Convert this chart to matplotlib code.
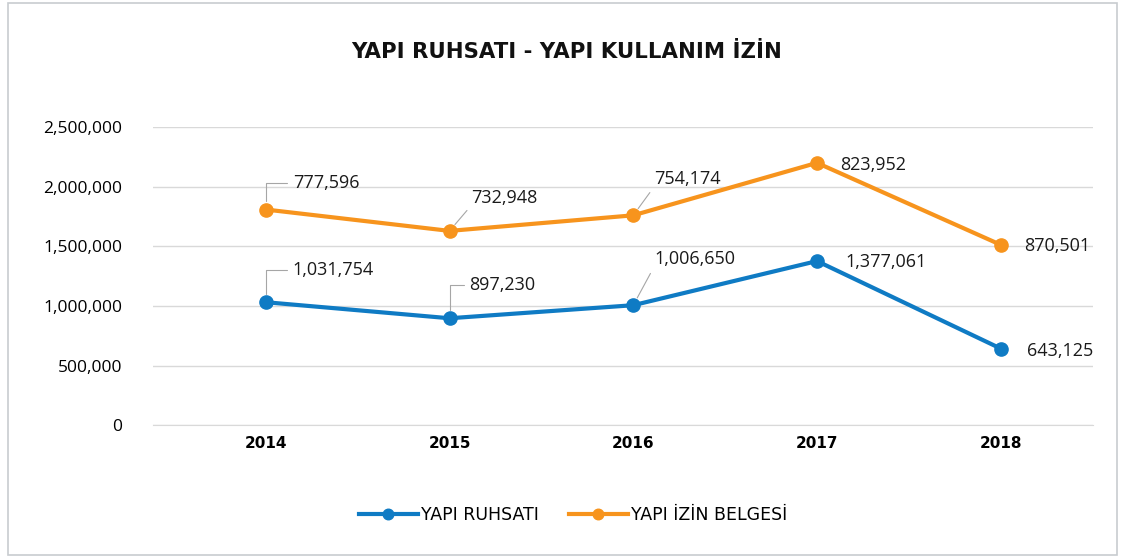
import numpy as np
import matplotlib.pyplot as plt
from matplotlib.patches import Rectangle
from matplotlib.ticker import FuncFormatter

years = ['2014', '2015', '2016', '2017', '2018']
ruhsat = [1031754, 897230, 1006650, 1377061, 643125]
izin = [777596, 732948, 754174, 823952, 870501]

BLUE = '#0F7BC4'
ORANGE = '#F7941D'
GRID = '#d9d9d9'
LEADER = '#a6a6a6'

plt.rcParams['font.family'] = ['Open Sans', 'DejaVu Sans']

fig = plt.figure(figsize=(11.24, 5.58), dpi=100)
ax = fig.add_axes([0.136, 0.238, 0.836, 0.534])

x = np.arange(len(years))
stacked = np.array(ruhsat) + np.array(izin)   # chart is stacked line

ax.plot(x, ruhsat, color=BLUE, lw=3, marker='o', ms=9.5, label='YAPI RUHSATI', zorder=3)
ax.plot(x, stacked, color=ORANGE, lw=3, marker='o', ms=9.5, label='YAPI İZİN BELGESİ', zorder=3)

ax.set_xlim(-0.615, 4.5)
ax.set_ylim(0, 2500000)
ax.set_yticks(np.arange(0, 2500001, 500000))
ax.yaxis.set_major_formatter(FuncFormatter(lambda v, p: f'{int(v):,}'))
ax.set_xticks(x)
ax.set_xticklabels(years, fontweight='bold', fontsize=11, family='DejaVu Sans')
ax.tick_params(axis='y', labelsize=12.5, length=0, pad=22)
ax.tick_params(axis='x', length=0, pad=8)
ax.grid(axis='y', color=GRID, lw=1)
ax.set_axisbelow(True)
for s in ['top', 'right', 'left']:
    ax.spines[s].set_visible(False)
ax.spines['bottom'].set_color(GRID)

# label offsets in pixels and leader style (None = no leader)
orange_off = [(27, 27), (22, 33), (21, 36), (23, -2), (23, -1)]
orange_lead = ['elbow', 'diag', 'diag', None, None]
blue_off = [(27, 32), (20, 33), (21, 46), (28, -1), (26, -2)]
blue_lead = ['elbow', 'elbow', 'diag', None, None]


def label(xi, yi, val, off, lead):
    props = None
    if lead == 'elbow':
        props = dict(arrowstyle='-', color=LEADER, lw=0.8, shrinkA=2, shrinkB=6,
                     relpos=(0, 0.5), connectionstyle='angle,angleA=0,angleB=90,rad=0')
    elif lead == 'diag':
        props = dict(arrowstyle='-', color=LEADER, lw=0.8, shrinkA=2, shrinkB=6,
                     relpos=(0, 0.1))
    ax.annotate(f'{val:,}', (xi, yi), xytext=off, textcoords='offset pixels',
                ha='left', va='center', fontsize=13, color='#1a1a1a',
                arrowprops=props, zorder=4)


for i in range(len(years)):
    label(x[i], stacked[i], izin[i], orange_off[i], orange_lead[i])
    label(x[i], ruhsat[i], ruhsat[i], blue_off[i], blue_lead[i])

fig.text(0.504, 0.907, 'YAPI RUHSATI - YAPI KULLANIM İZİN', ha='center', va='center',
         fontsize=15.3, fontweight='bold', color='#111111', family='DejaVu Sans')

fig.legend(loc='center', bbox_to_anchor=(0.51, 0.077), ncol=2, frameon=False,
           prop={'family': 'DejaVu Sans', 'size': 12.5}, handlelength=3.4,
           columnspacing=1.7, handletextpad=0.2, markerscale=0.8)

fig.add_artist(Rectangle((8 / 1124, 3 / 558), 1109 / 1124, 552 / 558, transform=fig.transFigure,
                         fill=False, ec='#c8ccd0', lw=1.2))

fig.savefig('out.png', dpi=100)
